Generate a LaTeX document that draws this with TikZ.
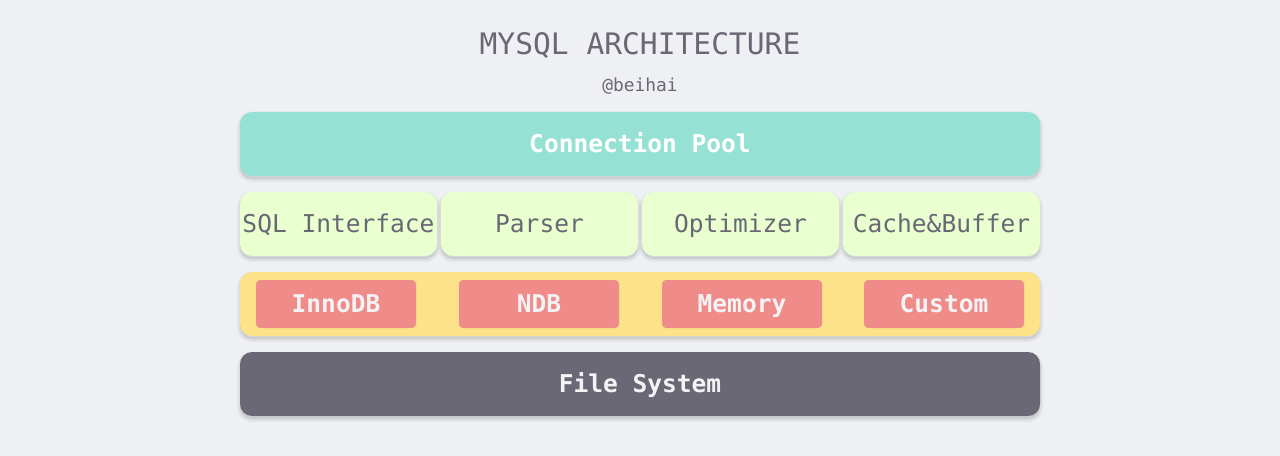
\documentclass[tikz,border=0pt]{standalone}
\usepackage{fontspec}
\setmonofont{DejaVu Sans Mono}
\definecolor{bg}{HTML}{EFF0F3}
\definecolor{ink}{HTML}{6A6775}
\definecolor{teal}{HTML}{95E1D3}
\definecolor{lime}{HTML}{EAFFD0}
\definecolor{sun}{HTML}{FCE38A}
\definecolor{rose}{HTML}{EF8B89}
\definecolor{slate}{HTML}{6B6875}
\definecolor{paper}{HTML}{F3F3F5}
\tikzset{
  sh/.style={
    preaction={draw=black, draw opacity=0.035, line width=5pt, transform canvas={yshift=-2.2pt}},
    preaction={draw=black, draw opacity=0.045, line width=2.5pt, transform canvas={yshift=-2.2pt}},
    preaction={fill=black, fill opacity=0.08, transform canvas={yshift=-2.2pt}}},
  txt/.style={text height=13.4pt, text depth=0.6pt},
  layer/.style={sh, txt, rounded corners=9pt, minimum width=600pt, minimum height=48pt, inner sep=0pt,
    font=\ttfamily\bfseries\fontsize{18.4}{22}\selectfont},
  part/.style={sh, txt, fill=lime, rounded corners=9pt, minimum width=147.75pt, minimum height=48pt, inner sep=0pt,
    text=ink, font=\ttfamily\fontsize{18.4}{22}\selectfont},
  engine/.style={txt, fill=rose, rounded corners=3pt, minimum width=120pt, minimum height=36pt, inner sep=0pt,
    text=paper, font=\ttfamily\bfseries\fontsize{18.4}{22}\selectfont},
}
\begin{document}
\begin{tikzpicture}[x=0.75pt, y=0.75pt]
\fill[bg] (0,0) rectangle (1280,-456);
\useasboundingbox (0,0) rectangle (1280,-456);
\node[text=ink, text height=16.2pt, text depth=0.7pt, font=\ttfamily\fontsize{22.2}{26}\selectfont] (title) at (640,-44) {MYSQL ARCHITECTURE};
\node[text=ink, text height=9.8pt, text depth=0.4pt, font=\ttfamily\fontsize{13.4}{16}\selectfont] (author) at (640,-85) {@beihai};
\node[layer, fill=teal, text=white] (pool) at (640,-144) {Connection Pool};
\node[part] (sql) at (338.5,-224) {SQL Interface};
\node[part] (parser) at (539.5,-224) {Parser};
\node[part] (opt) at (740.5,-224) {Optimizer};
\node[part] (cache) at (941.5,-224) {Cache\&Buffer};
\node[layer, fill=sun] (engines) at (640,-304) {};
\node[engine] (inno) at (336,-304) {InnoDB};
\node[engine] (ndb) at (539,-304) {NDB};
\node[engine] (mem) at (742,-304) {Memory};
\node[engine] (custom) at (944,-304) {Custom};
\node[layer, fill=slate, text=paper] (fs) at (640,-384) {File System};
\end{tikzpicture}
\end{document}
